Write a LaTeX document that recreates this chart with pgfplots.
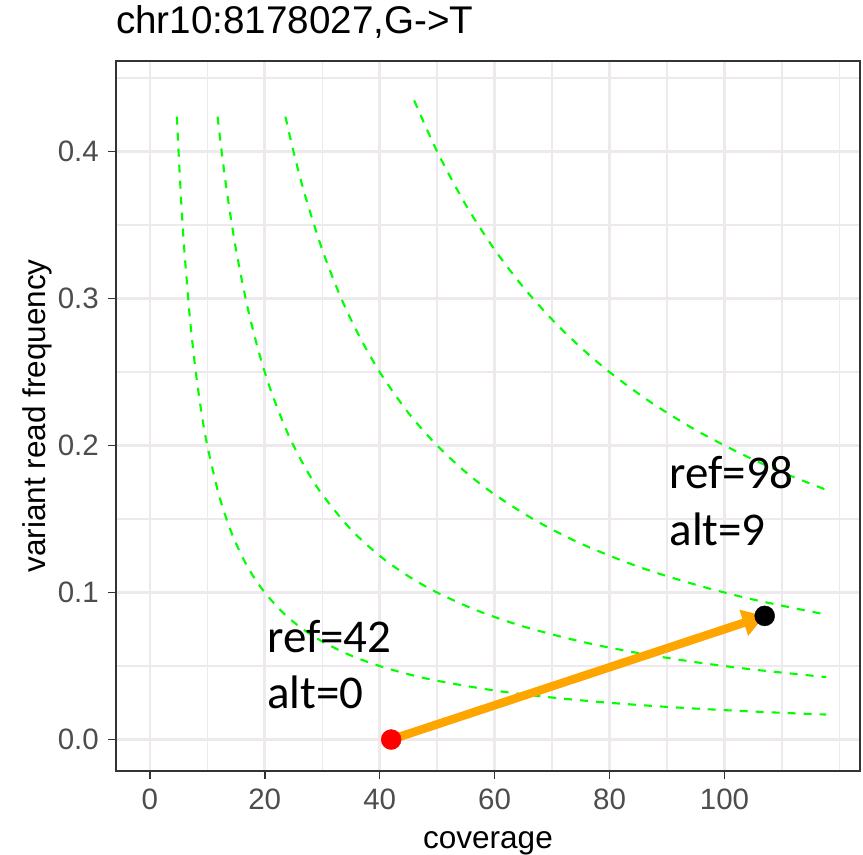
\documentclass[border=0pt]{standalone}
\usepackage{pgfplots}
\pgfplotsset{compat=1.18}
\usepackage{fontspec}
\setmainfont{Liberation Sans}
\newfontfamily\calibri{Carlito}
\usetikzlibrary{arrows.meta}
\definecolor{gridc}{HTML}{EDE9ED}
\definecolor{tickc}{HTML}{4D4D4D}
\definecolor{framec}{HTML}{333333}
\definecolor{curvec}{HTML}{00FF00}
\definecolor{arrowc}{HTML}{FFA500}
\begin{document}
\begin{tikzpicture}
\begin{axis}[
  name=ax,
  scale only axis, width=744bp, height=710bp,
  xmin=-5.885, xmax=123.585, ymin=-0.0214, ymax=0.4616,
  xtick={0,20,40,60,80,100}, xticklabels={0,20,40,60,80,100},
  ytick={0,0.1,0.2,0.3,0.4}, yticklabels={0.0,0.1,0.2,0.3,0.4},
  minor xtick={10,30,50,70,90,110,120},
  minor ytick={0.05,0.15,0.25,0.35,0.45},
  grid=both,
  major grid style={gridc, line width=2.6bp},
  minor grid style={gridc, line width=1.3bp},
  axis line style={framec, line width=1.6bp},
  tick pos=left, tick align=outside,
  major tick length=8bp, minor tick length=0pt,
  major tick style={framec, line width=1.6bp},
  /pgf/number format/assume math mode=true,
  xticklabel style={font=\fontsize{29.5bp}{35bp}\selectfont, text=tickc, inner sep=0pt, yshift=-10bp},
  yticklabel style={font=\fontsize{29.5bp}{35bp}\selectfont, text=tickc, inner sep=0pt, xshift=-9bp},
  xlabel={coverage}, ylabel={variant read frequency},
  xlabel style={font=\fontsize{31.5bp}{38bp}\selectfont, at={(rel axis cs:0.5,0)}, anchor=base, yshift=-77bp, inner sep=0pt},
  ylabel style={font=\fontsize{31.5bp}{38bp}\selectfont, at={(rel axis cs:0,0.5)}, anchor=base, yshift=70bp, inner sep=0pt},
  title={chr10:8178027,G->T},
  title style={font=\fontsize{38.6bp}{46bp}\selectfont, at={(rel axis cs:0,1)}, anchor=base west, yshift=21.7bp, inner sep=0pt},
]
% curves k/x, k = 2, 5, 10, 20
\addplot[curvec, line width=2.1bp, dash pattern=on 8bp off 8bp, smooth] coordinates {
(4.72,0.4237) (5,0.4) (5.5,0.3636) (6,0.3333) (7,0.2857) (8,0.25) (9,0.2222) (10,0.2)
(12,0.1667) (14,0.1429) (16,0.125) (18,0.1111) (20,0.1) (23,0.08696) (26,0.07692)
(30,0.06667) (35,0.05714) (40,0.05) (45,0.04444) (50,0.04) (60,0.03333) (70,0.02857)
(80,0.025) (90,0.02222) (100,0.02) (110,0.01818) (117.7,0.01699)};
\addplot[curvec, line width=2.1bp, dash pattern=on 8bp off 8bp, smooth] coordinates {
(11.8,0.4237) (12.5,0.4) (13.5,0.3704) (15,0.3333) (17,0.2941) (19,0.2632) (21,0.2381)
(24,0.2083) (27,0.1852) (30,0.1667) (35,0.1429) (40,0.125) (45,0.1111) (50,0.1)
(57,0.08772) (65,0.07692) (75,0.06667) (85,0.05882) (95,0.05263) (105,0.04762) (117.7,0.04248)};
\addplot[curvec, line width=2.1bp, dash pattern=on 8bp off 8bp, smooth] coordinates {
(23.6,0.4237) (25,0.4) (27,0.3704) (30,0.3333) (33,0.3030) (36,0.2778) (40,0.25)
(45,0.2222) (50,0.2) (55,0.1818) (60,0.1667) (67,0.1493) (75,0.1333) (85,0.1176)
(95,0.1053) (105,0.09524) (117.7,0.08496)};
\addplot[curvec, line width=2.1bp, dash pattern=on 8bp off 8bp, smooth] coordinates {
(46,0.4348) (50,0.4) (55,0.3636) (60,0.3333) (65,0.3077) (70,0.2857) (75,0.2667)
(80,0.25) (87,0.2299) (95,0.2105) (103,0.1942) (110,0.1818) (117.7,0.1699)};
% arrow
\addplot[arrowc, line width=8.5bp, -{Triangle[length=22bp, width=26bp]}] coordinates {(42,0) (107,0.08411)};
% points
\addplot[only marks, mark=*, mark size=10bp, red, mark options={draw=red, fill=red}] coordinates {(42,0)};
\addplot[only marks, mark=*, mark size=10bp, black, mark options={draw=black, fill=black}] coordinates {(107,0.08411)};
% annotations
\node[anchor=base west, inner sep=0pt, font=\calibri\fontsize{47bp}{57bp}\selectfont] at (axis cs:20.4,0.0591) {ref=42};
\node[anchor=base west, inner sep=0pt, font=\calibri\fontsize{47bp}{57bp}\selectfont] at (axis cs:20.4,0.0211) {alt=0};
\node[anchor=base west, inner sep=0pt, font=\calibri\fontsize{47bp}{57bp}\selectfont] at (axis cs:90.4,0.1705) {ref=98};
\node[anchor=base west, inner sep=0pt, font=\calibri\fontsize{47bp}{57bp}\selectfont] at (axis cs:90.4,0.1318) {alt=9};
\end{axis}
\pgfresetboundingbox
\path ([shift={(-116bp,-84bp)}]ax.south west) rectangle ([shift={(3bp,61bp)}]ax.north east);
\end{tikzpicture}
\end{document}
